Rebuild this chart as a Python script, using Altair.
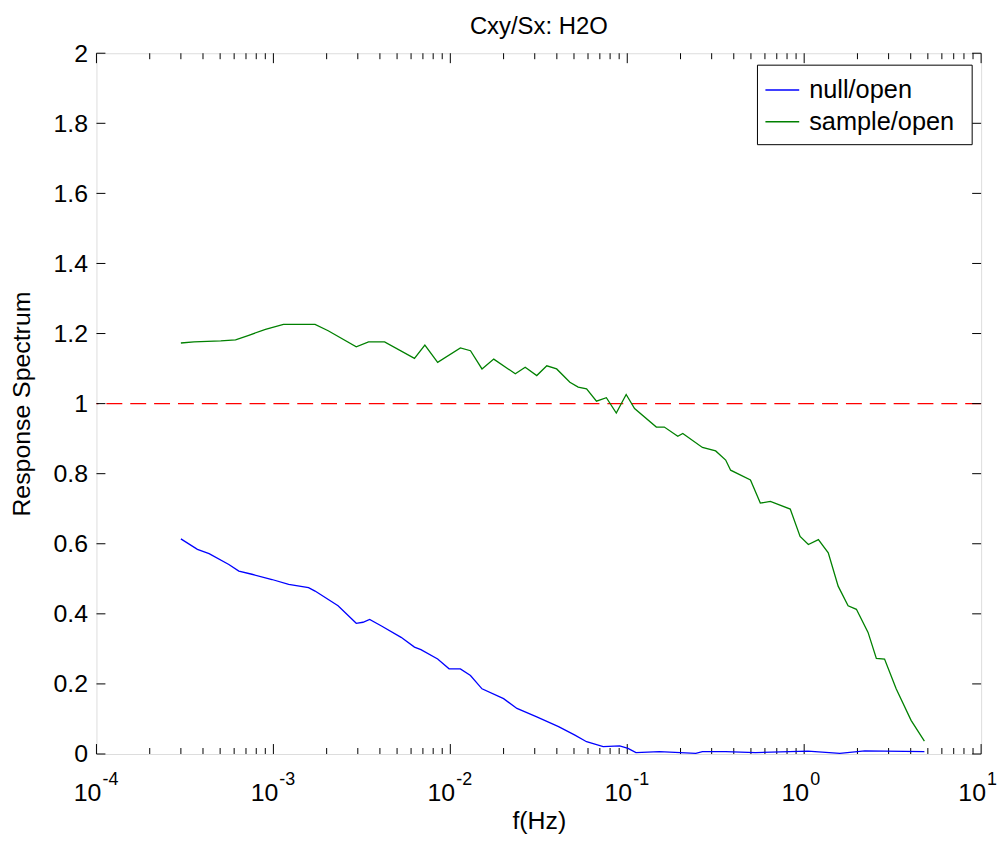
import altair as alt
import pandas as pd

# ---- data ----
blue_f = [3.0e-4, 3.72e-4, 4.33e-4, 5.60e-4, 6.38e-4, 7.56e-4, 9.82e-4, 1.22e-3, 1.58e-3, 1.72e-3,
          2.32e-3, 2.94e-3, 3.21e-3, 3.50e-3, 4.06e-3, 5.27e-3, 6.27e-3, 6.82e-3, 8.48e-3, 9.84e-3,
          1.14e-2, 1.30e-2, 1.51e-2, 2.00e-2, 2.38e-2, 3.08e-2, 4.09e-2, 5.06e-2, 5.89e-2, 7.31e-2,
          9.06e-2, 0.101, 0.112, 0.152, 0.244, 0.266, 0.360, 0.530, 1.05, 1.59, 2.20, 4.78]
blue_v = [0.614, 0.584, 0.572, 0.541, 0.522, 0.513, 0.498, 0.484, 0.475, 0.465,
          0.423, 0.373, 0.376, 0.384, 0.366, 0.333, 0.305, 0.298, 0.271, 0.243,
          0.243, 0.224, 0.186, 0.158, 0.130, 0.106, 0.078, 0.054, 0.035, 0.021,
          0.023, 0.016, 0.004, 0.007, 0.002, 0.007, 0.007, 0.004, 0.008, 0.002, 0.009, 0.007]

green_f = [3.0e-4, 3.56e-4, 5.04e-4, 6.11e-4, 7.26e-4, 9.02e-4, 1.14e-3, 1.72e-3, 2.04e-3, 2.94e-3,
           3.45e-3, 4.25e-3, 6.27e-3, 7.18e-3, 8.48e-3, 1.14e-2, 1.30e-2, 1.51e-2, 1.76e-2, 2.33e-2,
           2.65e-2, 3.08e-2, 3.51e-2, 3.99e-2, 4.74e-2, 5.28e-2, 5.89e-2, 6.70e-2, 7.62e-2, 8.67e-2,
           9.86e-2, 0.110, 0.146, 0.162, 0.193, 0.206, 0.266, 0.316, 0.360, 0.384,
           0.497, 0.565, 0.644, 0.834, 0.948, 1.056, 1.203, 1.368, 1.556, 1.771,
           1.973, 2.296, 2.558, 2.846, 3.31, 4.02, 4.78]
green_v = [1.173, 1.176, 1.179, 1.182, 1.195, 1.212, 1.226, 1.226, 1.208, 1.162,
           1.176, 1.176, 1.129, 1.167, 1.118, 1.159, 1.151, 1.099, 1.127, 1.085,
           1.104, 1.080, 1.108, 1.099, 1.061, 1.047, 1.042, 1.007, 1.017, 0.973,
           1.026, 0.986, 0.933, 0.933, 0.907, 0.915, 0.875, 0.865, 0.839, 0.810,
           0.782, 0.716, 0.721, 0.699, 0.621, 0.598, 0.612, 0.574, 0.479, 0.423,
           0.413, 0.347, 0.273, 0.271, 0.186, 0.096, 0.037]

series_names = ["null/open", "sample/open"]
series_colors = ["#0000ff", "#008000"]
reference_level = [1.0]
chart_title = ["Cxy/Sx: H2O"]

decades = [1e-4, 1e-3, 1e-2, 1e-1, 1.0, 10.0]
decade_base = ["10", "10", "10", "10", "10", "10"]
decade_exp = ["-4", "-3", "-2", "-1", "0", "1"]
minor_mult = [2, 3, 4, 5, 6, 7, 8, 9]
y_ticks = [0, 0.2, 0.4, 0.6, 0.8, 1.0, 1.2, 1.4, 1.6, 1.8, 2.0]

# ---- tables ----
curves = pd.DataFrame({
    "f": blue_f + green_f,
    "v": blue_v + green_v,
    "series": [series_names[0]] * len(blue_f) + [series_names[1]] * len(green_f),
})
major_df = pd.DataFrame({"f": decades, "base": decade_base, "exp": decade_exp})
minor_df = pd.DataFrame({"f": [m * d for d in decades[:-1] for m in minor_mult]})
yt_df = pd.DataFrame({"v": y_ticks})
ref_df = pd.DataFrame({"v": reference_level})
title_df = pd.DataFrame({"label": chart_title})

W, H = 890, 705
FONT = "Liberation Sans"

xs = alt.Scale(type="log", domain=[1e-4, 10], nice=False)
ys = alt.Scale(domain=[0, 2], nice=False, zero=False)

x_axis = alt.Axis(
    orient="bottom", title="f(Hz)", labels=False, ticks=False, domain=False, grid=False,
    titleFont=FONT, titleFontSize=25, titleFontWeight="normal", titleColor="black",
    titleBaseline="alphabetic", titlePadding=75)
y_axis = alt.Axis(
    orient="left", title="Response Spectrum", values=y_ticks, format="~g", ticks=False,
    domain=False, grid=False, labelFont=FONT, labelFontSize=25, labelColor="black", labelPadding=9,
    titleFont=FONT, titleFontSize=25, titleFontWeight="normal", titleColor="black",
    titleBaseline="alphabetic", titlePadding=24)

X = alt.X("f:Q", scale=xs, axis=x_axis)
Y = alt.Y("v:Q", scale=ys, axis=y_axis)

lines = alt.Chart(curves).mark_line(strokeWidth=1.3).encode(
    x=X, y=Y,
    color=alt.Color("series:N", scale=alt.Scale(domain=series_names, range=series_colors),
                    legend=alt.Legend(
                        title=None, orient="none", legendX=665, legendY=12, direction="vertical",
                        padding=7, symbolType="stroke", symbolSize=1156, symbolStrokeWidth=1.4,
                        labelFont=FONT, labelFontSize=25.5, labelColor="black", labelOffset=9,
                        rowPadding=0, labelLimit=400)),
)

legend_box = alt.Chart(title_df).mark_rect(fill="white", stroke="black", strokeWidth=1).encode(
    x=alt.value(665), x2=alt.value(881), y=alt.value(12), y2=alt.value(92))

ref_line = alt.Chart(ref_df).mark_rule(color="#ff0000", strokeWidth=1.3, strokeDash=[16, 8]).encode(y=Y)

def xtick(df, y0, y1):
    return alt.Chart(df).mark_rule(color="black", strokeWidth=1).encode(
        x=X, y=alt.value(y0), y2=alt.value(y1))

def ytick(x0, x1):
    return alt.Chart(yt_df).mark_rule(color="black", strokeWidth=1).encode(
        y=Y, x=alt.value(x0), x2=alt.value(x1))

ticks = [
    xtick(major_df, H, H - 10), xtick(major_df, 0, 10),
    xtick(minor_df, H, H - 6), xtick(minor_df, 0, 6),
    ytick(0, 9), ytick(W, W - 9),
]

base_lbl = alt.Chart(major_df).mark_text(font=FONT, fontSize=25, color="black", align="center",
                                          baseline="alphabetic", dx=-9).encode(
    x=X, y=alt.value(H + 47), text="base:N")
exp_lbl = alt.Chart(major_df).mark_text(font=FONT, fontSize=18, color="black", align="left",
                                         baseline="alphabetic", dx=6).encode(
    x=X, y=alt.value(H + 31), text="exp:N")
title_txt = alt.Chart(title_df).mark_text(font=FONT, fontSize=24, color="black", align="center",
                                           baseline="alphabetic").encode(
    x=alt.value(W / 2), y=alt.value(-19), text="label:N")

chart = alt.layer(ref_line, *ticks, lines, legend_box, base_lbl, exp_lbl, title_txt).properties(
    width=W, height=H,
    padding={"left": 89, "top": 43, "right": 19, "bottom": 80},
    autosize=alt.AutoSizeParams(type="none"),
).configure_view(stroke="black", strokeWidth=1).configure(background="white")

chart.save("out.html", embed_options={"renderer": "svg", "actions": False})
